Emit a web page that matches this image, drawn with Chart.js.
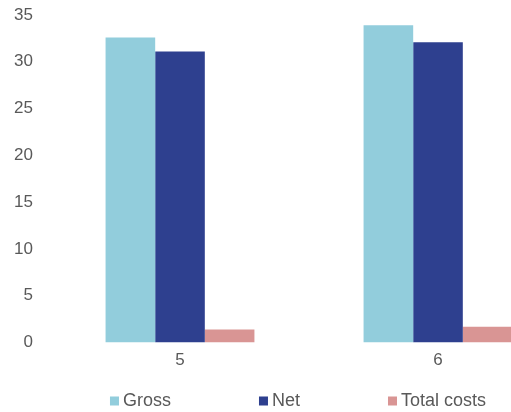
<!DOCTYPE html>
<html>
<head>
<meta charset="utf-8">
<script src="https://cdn.jsdelivr.net/npm/chart.js@4"></script>
<style>
  html, body { margin: 0; padding: 0; background: #fff; overflow: hidden; }
  #wrap { width: 600px; height: 412px; }
</style>
</head>
<body>
<div id="wrap"><canvas id="costChart"></canvas></div>
<script>
// data
const categories = ['5', '6'];
const grossValues = [32.6, 33.9];
const netValues = [31.1, 32.1];
const costValues = [1.4, 1.7];
const yTicks = [0, 5, 10, 15, 20, 25, 30, 35];

const textGrey = '#595959';
const fontFamily = 'Liberation Sans, Arial, sans-serif';

// legend with wide gaps between the items (the built-in one ties gap and height together)
const spacedLegend = {
    id: 'spacedLegend',
    afterDraw(chart, args, opts) {
        const ctx = chart.ctx;
        ctx.save();
        ctx.font = opts.size + 'px ' + fontFamily;
        ctx.textBaseline = 'middle';
        ctx.textAlign = 'left';
        const items = chart.data.datasets.map(ds => ({
            text: ds.label,
            color: ds.backgroundColor,
            w: opts.box + opts.boxGap + ctx.measureText(ds.label).width
        }));
        const total = items.reduce((s, it) => s + it.w, 0) + opts.gap * (items.length - 1);
        let x = opts.centerX - total / 2;
        items.forEach(it => {
            ctx.fillStyle = it.color;
            ctx.fillRect(x, opts.y - opts.box / 2, opts.box, opts.box);
            ctx.fillStyle = textGrey;
            ctx.fillText(it.text, x + opts.box + opts.boxGap, opts.y);
            x += it.w + opts.gap;
        });
        ctx.restore();
    }
};

const config = {
    type: 'bar',
    data: {
        labels: categories,
        datasets: [
            { label: 'Gross', data: grossValues, backgroundColor: '#92cddc' },
            { label: 'Net', data: netValues, backgroundColor: '#2e408f' },
            { label: 'Total costs', data: costValues, backgroundColor: '#d99594' }
        ]
    },
    options: {
        responsive: true,
        maintainAspectRatio: false,
        animation: false,
        layout: { padding: { left: 0, right: 33, top: 15, bottom: 33 } },
        datasets: {
            bar: { categoryPercentage: 0.577, barPercentage: 1.0, borderWidth: 0 }
        },
        plugins: {
            tooltip: { enabled: false },
            legend: { display: false },
            spacedLegend: { centerX: 298, y: 401, size: 18, box: 9, boxGap: 4, gap: 88 }
        },
        scales: {
            x: {
                grid: { display: false, drawTicks: false },
                border: { display: false },
                ticks: { color: textGrey, font: { family: fontFamily, size: 17 }, padding: 8 }
            },
            y: {
                min: 0,
                max: 35,
                afterBuildTicks: (axis) => { axis.ticks = yTicks.map(v => ({ value: v })); },
                afterFit: (axis) => {
                    axis.width = 51;
                    axis.paddingTop = 0;
                    axis.paddingBottom = 0;
                },
                grid: { display: false, drawTicks: false },
                border: { display: false },
                ticks: { color: textGrey, font: { family: fontFamily, size: 17 }, padding: 18 }
            }
        }
    },
    plugins: [spacedLegend]
};

const ctx = document.getElementById('costChart').getContext('2d');
const costChart = new Chart(ctx, config);
</script>
</body>
</html>
